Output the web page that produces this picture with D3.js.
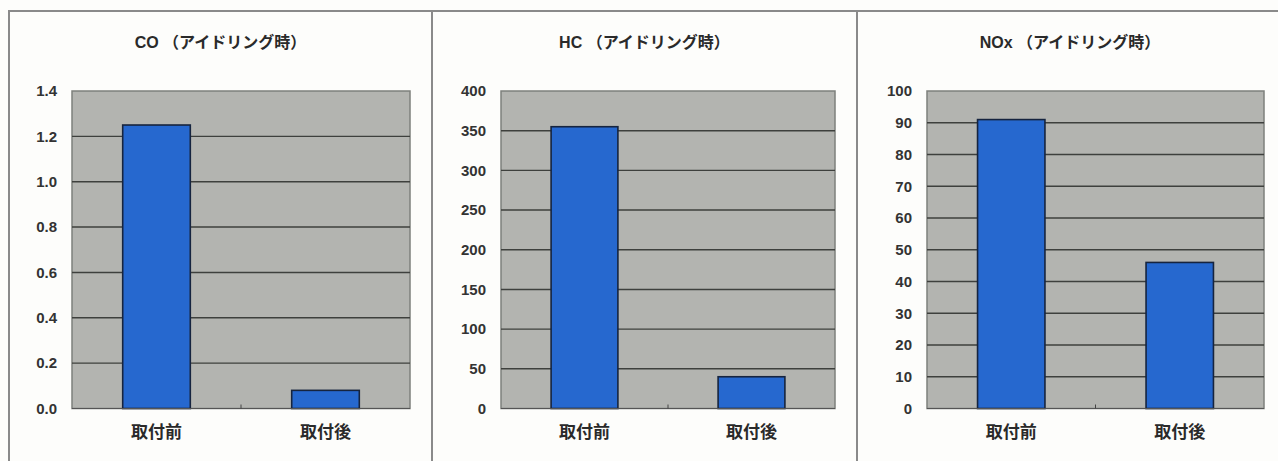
<!DOCTYPE html>
<html><head><meta charset="utf-8">
<script src="https://cdn.jsdelivr.net/npm/d3@7"></script>
<style>
body{margin:0;background:#fdfdfb;}
svg{display:block;}
</style></head>
<body>
<svg id="c" width="1278" height="461"></svg>
<script>
const categories = ["取付前", "取付後"];
const titles = ["CO （アイドリング時）", "HC （アイドリング時）", "NOx （アイドリング時）"];
const coValues = [1.25, 0.08];
const hcValues = [355, 40];
const noxValues = [91, 46];
const coTicks = [0, 0.2, 0.4, 0.6, 0.8, 1.0, 1.2, 1.4];
const hcTicks = [0, 50, 100, 150, 200, 250, 300, 350, 400];
const noxTicks = [0, 10, 20, 30, 40, 50, 60, 70, 80, 90, 100];

const panels = [
  {title: titles[0], values: coValues, ticks: coTicks, fmt: d3.format(".1f"), x0: 9, x1: 432, pl: 72, pr: 410},
  {title: titles[1], values: hcValues, ticks: hcTicks, fmt: d3.format("d"), x0: 432, x1: 857, pl: 501, pr: 835},
  {title: titles[2], values: noxValues, ticks: noxTicks, fmt: d3.format("d"), x0: 857, x1: 1283, pl: 927, pr: 1264}
];

const svg = d3.select("#c");
const font = "'Liberation Sans', Arial, 'Noto Sans CJK JP', sans-serif";
const plotTop = 91, plotBottom = 408.5;

// frame lines
svg.append("line").attr("x1", 9).attr("x2", 1278).attr("y1", 11).attr("y2", 11)
  .attr("stroke", "#8a8a8a").attr("stroke-width", 2);
[9, 432, 857].forEach(x => {
  svg.append("line").attr("x1", x).attr("x2", x).attr("y1", 10).attr("y2", 461)
    .attr("stroke", "#8a8a8a").attr("stroke-width", 2);
});

panels.forEach(p => {
  const g = svg.append("g");
  const y = d3.scaleLinear().domain([p.ticks[0], p.ticks[p.ticks.length - 1]]).range([plotBottom, plotTop]);
  const x = d3.scaleBand().domain(categories).range([p.pl, p.pr]).paddingInner(0.6).paddingOuter(0.3);

  // title
  g.append("text").attr("x", (p.x0 + p.x1) / 2).attr("y", 48)
    .attr("text-anchor", "middle").attr("font-family", font)
    .attr("font-size", 16).attr("font-weight", "bold").attr("fill", "#2a2a2a")
    .text(p.title);

  // plot background
  g.append("rect").attr("x", p.pl).attr("y", plotTop).attr("width", p.pr - p.pl).attr("height", plotBottom - plotTop)
    .attr("fill", "#b3b4b0").attr("stroke", "#7e807c").attr("stroke-width", 1.5);

  // gridlines
  g.append("g").selectAll("line").data(p.ticks.slice(1, -1)).join("line")
    .attr("x1", p.pl).attr("x2", p.pr)
    .attr("y1", d => y(d)).attr("y2", d => y(d))
    .attr("stroke", "#3e403d").attr("stroke-width", 1.4);

  // y axis labels
  const ya = d3.axisLeft(y).tickValues(p.ticks).tickFormat(p.fmt).tickSize(0).tickPadding(15);
  const yg = g.append("g").attr("transform", `translate(${p.pl},0)`).call(ya);
  yg.select(".domain").remove();
  yg.selectAll("text").attr("font-family", font).attr("font-size", 15).attr("font-weight", "bold").attr("fill", "#333");

  // bars
  g.append("g").selectAll("rect").data(p.values).join("rect")
    .attr("x", (d, i) => x(categories[i]))
    .attr("width", x.bandwidth())
    .attr("y", d => y(d))
    .attr("height", d => y(0) - y(d))
    .attr("fill", "#2668cf").attr("stroke", "#16243f").attr("stroke-width", 1.6);

  // x axis
  g.append("line").attr("x1", p.pl).attr("x2", p.pr).attr("y1", plotBottom).attr("y2", plotBottom)
    .attr("stroke", "#555").attr("stroke-width", 1.2);
  g.append("line").attr("x1", (p.pl + p.pr) / 2).attr("x2", (p.pl + p.pr) / 2)
    .attr("y1", plotBottom).attr("y2", plotBottom - 4).attr("stroke", "#444").attr("stroke-width", 1);

  const xa = d3.axisBottom(x).tickSize(0).tickPadding(17);
  const xg = g.append("g").attr("transform", `translate(0,${plotBottom})`).call(xa);
  xg.select(".domain").remove();
  xg.selectAll("text").attr("font-family", font).attr("font-size", 17).attr("font-weight", "bold").attr("fill", "#2a2a2a");
});
</script>
</body></html>
